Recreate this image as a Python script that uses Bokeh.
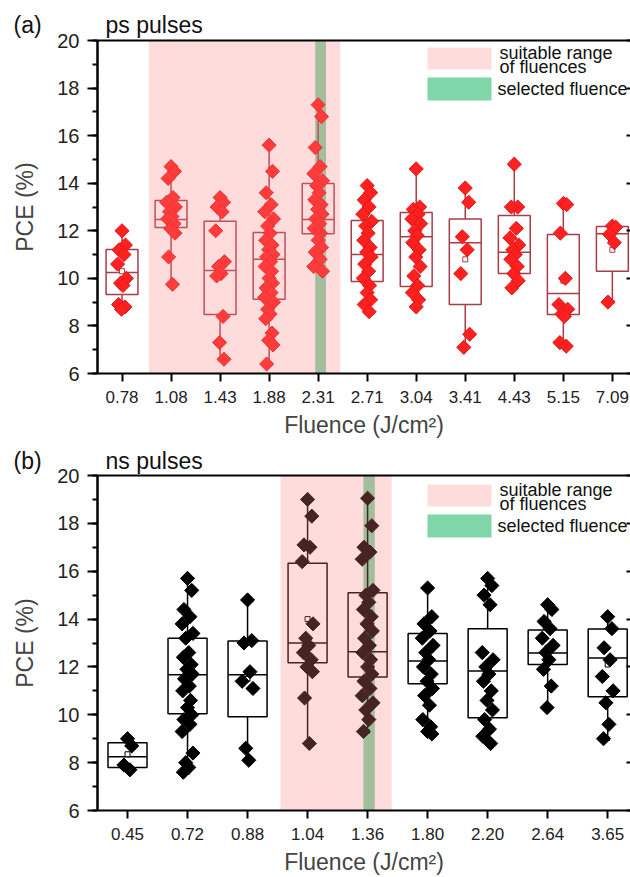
from bokeh.plotting import figure
from bokeh.models import (LinearAxis, FixedTicker, SingleIntervalTicker, Range1d,
                          BoxAnnotation, Label)
from bokeh.layouts import column
from bokeh.embed import file_html
from bokeh.resources import INLINE
import numpy as np

FONT = "Liberation Sans"

# ---------------- (a) ps pulses ----------------
ps_labels = ["0.78", "1.08", "1.43", "1.88", "2.31", "2.71", "3.04", "3.41", "4.43", "5.15", "7.09"]
ps_q1 = [9.32, 12.14, 8.48, 9.12, 11.88, 9.87, 9.66, 8.9, 10.2, 8.48, 10.3]
ps_med = [10.25, 12.47, 10.33, 10.8, 12.47, 11.0, 11.75, 11.5, 11.1, 9.36, 11.88]
ps_q3 = [11.21, 13.27, 12.4, 11.93, 13.99, 12.43, 12.77, 12.5, 12.64, 11.84, 12.18]
ps_lo = [8.7, 9.75, 6.6, 6.4, 10.3, 8.6, 8.8, 7.1, 9.6, 7.15, 9.0]
ps_hi = [12.0, 14.7, 13.4, 15.6, 17.3, 13.9, 14.6, 13.8, 14.8, 13.15, 12.2]
ps_mean = [10.3, 12.5, 10.3, 10.6, 12.8, 11.1, 11.5, 10.8, 11.6, 9.9, 11.2]
ps_points = [
    [12.0, 11.4, 11.2, 11.0, 10.6, 10.0, 9.8, 9.7, 8.9, 8.8, 8.7],
    [14.7, 14.5, 14.2, 13.4, 13.2, 13.0, 12.8, 12.6, 12.5, 12.3, 12.1, 11.9, 10.9, 9.75],
    [13.4, 13.2, 13.0, 12.8, 12.0, 10.7, 10.5, 10.2, 10.1, 8.4, 7.3, 6.6],
    [15.6, 14.5, 13.6, 13.1, 12.8, 12.5, 12.2, 11.9, 11.6, 11.4, 11.2, 11.0, 10.9, 10.7,
     10.5, 10.3, 10.0, 9.8, 9.6, 9.4, 9.2, 9.0, 8.7, 8.5, 8.3, 7.7, 7.4, 7.2, 6.4],
    [17.3, 16.8, 15.5, 14.7, 14.4, 14.1, 13.9, 13.6, 13.3, 13.1, 12.9, 12.7, 12.5, 12.3,
     12.1, 11.9, 11.6, 11.3, 11.1, 10.8, 10.5, 10.3],
    [13.9, 13.6, 13.3, 13.0, 12.7, 12.4, 12.2, 11.9, 11.6, 11.3, 11.1, 10.9, 10.6, 10.3,
     10.0, 9.7, 9.4, 9.1, 8.9, 8.6],
    [14.6, 13.0, 12.9, 12.7, 12.5, 12.3, 12.0, 11.8, 11.5, 11.2, 10.9, 10.5, 10.1, 9.7,
     9.4, 9.1, 8.8],
    [13.8, 13.2, 11.75, 11.2, 10.2, 7.65, 7.1],
    [14.8, 13.0, 13.0, 12.1, 11.7, 11.4, 11.2, 11.0, 10.8, 10.5, 10.2, 9.9, 9.6],
    [13.15, 13.1, 11.9, 10.0, 8.9, 8.7, 8.5, 8.4, 7.3, 7.15],
    [12.2, 12.15, 11.85, 11.5, 9.0],
]
ps_suitable = [0.55, 4.45]   # in category-index units
ps_selected = [3.94, 4.16]

# ---------------- (b) ns pulses ----------------
ns_labels = ["0.45", "0.72", "0.88", "1.04", "1.36", "1.80", "2.20", "2.64", "3.65"]
ns_q1 = [7.8, 10.04, 9.92, 12.17, 11.58, 11.3, 9.88, 12.1, 10.75]
ns_med = [8.25, 11.67, 11.67, 13.0, 12.63, 12.25, 11.83, 12.58, 12.37]
ns_q3 = [8.83, 13.2, 13.08, 16.33, 15.1, 13.4, 13.6, 13.54, 13.58]
ns_lo = [7.7, 7.6, 8.1, 8.8, 9.3, 9.2, 8.8, 10.3, 9.0]
ns_hi = [9.0, 15.7, 14.8, 19.0, 19.05, 15.3, 15.7, 14.6, 14.1]
ns_mean = [8.35, 11.6, 11.5, 14.0, 13.4, 12.2, 12.0, 12.8, 12.1]
ns_points = [
    [9.0, 8.7, 7.9, 7.7],
    [15.7, 15.2, 14.4, 14.1, 13.8, 13.4, 13.2, 12.6, 12.4, 12.1, 11.9, 11.7, 11.5, 11.2,
     11.0, 10.6, 10.3, 10.0, 9.8, 9.6, 9.3, 8.4, 8.0, 7.8, 7.6],
    [14.8, 13.1, 13.0, 11.8, 11.4, 11.1, 8.6, 8.1],
    [19.0, 18.3, 17.1, 17.0, 16.4, 13.8, 13.2, 12.9, 12.6, 12.3, 12.0, 11.8, 10.7, 8.8],
    [19.05, 17.9, 17.0, 16.8, 16.5, 15.2, 15.0, 14.7, 14.4, 14.1, 13.8, 13.5, 13.2, 12.9,
     12.6, 12.3, 12.0, 11.7, 11.4, 11.1, 10.8, 10.5, 10.2, 9.8, 9.3],
    [15.3, 14.1, 13.8, 13.5, 13.2, 12.9, 12.6, 12.3, 12.0, 11.7, 11.4, 11.1, 10.8, 10.4,
     9.8, 9.5, 9.3, 9.2],
    [15.7, 15.4, 15.0, 14.6, 12.6, 12.3, 12.0, 11.7, 11.4, 11.0, 10.6, 10.2, 9.8, 9.4,
     9.1, 8.8],
    [14.6, 14.4, 13.9, 13.6, 13.2, 12.9, 12.6, 12.3, 11.9, 11.2, 10.3],
    [14.1, 13.6, 12.8, 12.3, 11.6, 11.0, 10.5, 9.6, 9.0],
]
ns_suitable = [2.55, 4.4]
ns_selected = [3.93, 4.12]

Y_TICKS = [6, 8, 10, 12, 14, 16, 18, 20]
LEGEND_TEXTS = ["suitable range", "of fluences", "selected fluence"]

# deterministic horizontal spread pattern for the dots (fraction of a category)
SPREAD = [0.0, 0.07, -0.06, 0.04, -0.09, 0.09, -0.03, 0.02, -0.07, 0.06,
          -0.01, 0.08, -0.05, 0.03, -0.08, 0.05]

NB = "\u00a0"
PINK = "#ff8080"
PINK_ALPHA = 0.28
GREEN = "#7fd6a8"


def panel(tag, title, labels, q1, med, q3, lo, hi, mean, points, suitable, selected,
          box_color, dot_color, dot_line, xend, height, border_top, border_bottom,
          title_standoff):
    n = len(labels)
    idx = np.arange(n, dtype=float)
    p = figure(width=630, height=height, x_range=Range1d(-0.5, xend),
               y_range=Range1d(6, 20), output_backend="svg", toolbar_location=None,
               min_border_left=97, min_border_right=0, min_border_top=border_top,
               min_border_bottom=border_bottom)
    p.grid.visible = False
    p.outline_line_color = None

    p.title.text = tag + NB * 10 + title
    p.title.align = "left"
    p.title.offset = -84
    p.title.standoff = title_standoff
    p.title.text_font = FONT
    p.title.text_font_size = "23px"
    p.title.text_font_style = "normal"
    p.title.text_color = "#111111"

    p.quad(left=[selected[0]], right=[selected[1]], bottom=[6], top=[20],
           fill_color=GREEN, line_color=None)

    bw = 0.65
    p.vbar(x=idx, width=bw, bottom=q1, top=q3, fill_color=None,
           line_color=box_color, line_width=1.5)
    p.segment(x0=idx - bw / 2, x1=idx + bw / 2, y0=med, y1=med,
              line_color=box_color, line_width=1.5)
    p.segment(x0=idx, x1=idx, y0=q3, y1=hi, line_color=box_color, line_width=1.5)
    p.segment(x0=idx, x1=idx, y0=lo, y1=q1, line_color=box_color, line_width=1.5)
    p.scatter(x=np.concatenate([idx, idx]), y=list(lo) + list(hi), marker="x",
              size=6, line_color=box_color, line_width=1)
    p.scatter(x=idx, y=mean, marker="square", size=5, fill_color="white",
              line_color=box_color, line_width=1)

    xs, ys = [], []
    for i, vals in enumerate(points):
        for k, v in enumerate(vals):
            xs.append(i + SPREAD[k % len(SPREAD)])
            ys.append(v)
    p.scatter(x=xs, y=ys, marker="square", angle=np.pi / 4, size=10,
              fill_color=dot_color, line_color=dot_line, line_width=1)

    p.quad(left=[suitable[0]], right=[suitable[1]], bottom=[6], top=[20],
           fill_color=PINK, fill_alpha=PINK_ALPHA, line_color=None)

    # axes
    xa = p.xaxis[0]
    xa.ticker = FixedTicker(ticks=list(idx))
    xa.major_label_overrides = {float(i): lab for i, lab in enumerate(labels)}
    xa.minor_tick_line_color = None
    xa.major_tick_in = 0
    xa.major_tick_out = 8
    xa.major_tick_line_width = 2
    xa.axis_line_width = 2
    xa.major_label_text_font = FONT
    xa.major_label_text_font_size = "17px"
    xa.major_label_text_color = "#222222"
    xa.major_label_standoff = 9
    xa.axis_label = "Fluence (J/cm²)"
    xa.axis_label_text_font = FONT
    xa.axis_label_text_font_size = "23px"
    xa.axis_label_text_font_style = "normal"
    xa.axis_label_standoff = 6

    ya = p.yaxis[0]
    ya.ticker = SingleIntervalTicker(interval=2, num_minor_ticks=2)
    ya.major_tick_in = 0
    ya.major_tick_out = 10
    ya.minor_tick_in = 0
    ya.minor_tick_out = 5
    ya.major_tick_line_width = 2
    ya.minor_tick_line_width = 2
    ya.axis_line_width = 2.5
    ya.major_label_text_font = FONT
    ya.major_label_text_font_size = "20px"
    ya.major_label_text_color = "#222222"
    ya.major_label_standoff = 8
    ya.axis_label = "PCE (%)"
    ya.axis_label_text_font = FONT
    ya.axis_label_text_font_size = "23px"
    ya.axis_label_text_font_style = "normal"
    ya.axis_label_standoff = 16

    top = LinearAxis(ticker=FixedTicker(ticks=[]), major_tick_in=0, major_tick_out=0,
                     minor_tick_in=0, minor_tick_out=0, major_label_standoff=0,
                     axis_line_width=2)
    p.add_layout(top, "above")
    right = LinearAxis(ticker=FixedTicker(ticks=Y_TICKS), major_tick_in=4,
                       major_tick_out=0, minor_tick_in=0, minor_tick_out=0,
                       major_label_overrides={float(t): "" for t in Y_TICKS},
                       major_label_standoff=0, axis_line_color=None,
                       major_tick_line_width=2)
    p.add_layout(right, "right")

    # legend key (screen units, measured from the frame's bottom-left corner)
    p.add_layout(BoxAnnotation(left=330, right=394, bottom=304, top=326,
                               left_units="screen", right_units="screen",
                               bottom_units="screen", top_units="screen",
                               fill_color=PINK, fill_alpha=PINK_ALPHA, line_color=None))
    p.add_layout(BoxAnnotation(left=330, right=394, bottom=273, top=296,
                               left_units="screen", right_units="screen",
                               bottom_units="screen", top_units="screen",
                               fill_color=GREEN, fill_alpha=1.0, line_color=None))
    for txt, lx, ly in zip(LEGEND_TEXTS, [402, 402, 400], [321, 307, 285]):
        p.add_layout(Label(x=lx, y=ly, x_units="screen", y_units="screen", text=txt,
                           text_font=FONT, text_font_size="18px",
                           text_baseline="middle", text_color="#111111"))
    return p


p1 = panel("(a)", "ps pulses", ps_labels, ps_q1, ps_med, ps_q3, ps_lo, ps_hi, ps_mean,
           ps_points, ps_suitable, ps_selected, "#a83c48", "#ff2020", "#e01818",
           10.37, 443, 40, 70, 6)
p2 = panel("(b)", "ns pulses", ns_labels, ns_q1, ns_med, ns_q3, ns_lo, ns_hi, ns_mean,
           ns_points, ns_suitable, ns_selected, "#000000", "#000000", "#000000",
           8.38, 434, 32, 66, 4)

layout = column(p1, p2, spacing=0)
open("out.html", "w").write(file_html(layout, INLINE))
